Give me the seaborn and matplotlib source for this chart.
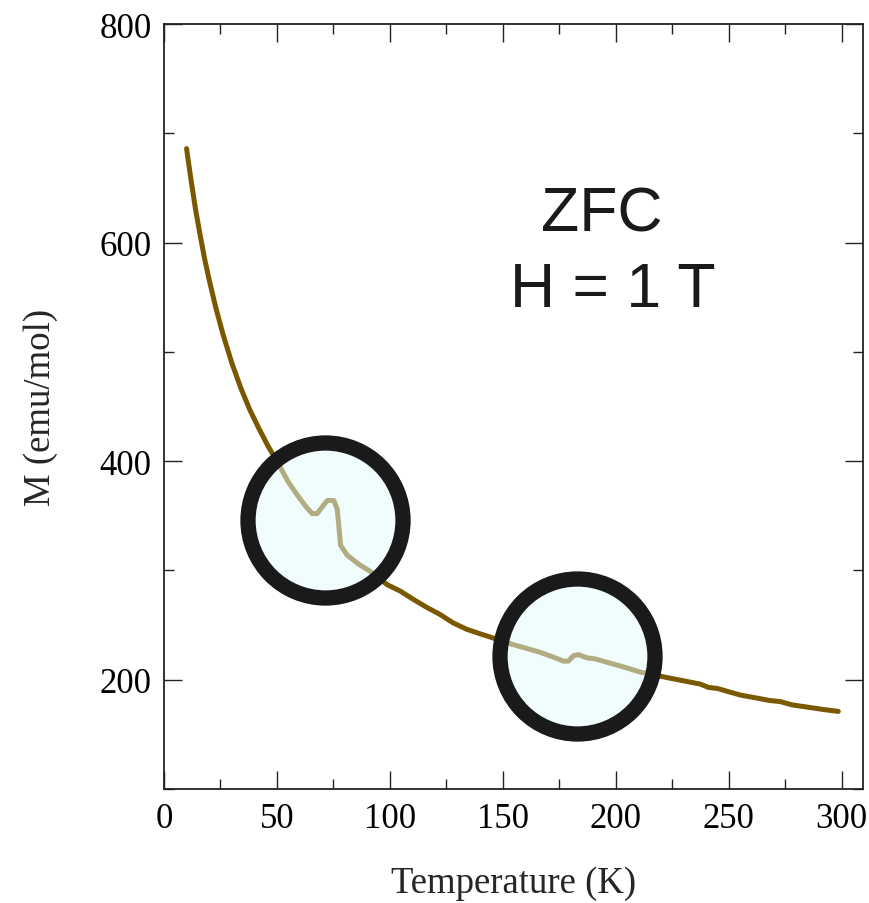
import matplotlib
matplotlib.use("Agg")
import matplotlib.pyplot as plt
import seaborn as sns
import pandas as pd
from matplotlib.ticker import MultipleLocator

# ---- data ----
temperature = [10, 12, 14, 16, 18, 20, 23, 26, 30, 34, 38, 42, 46, 50,
               55, 59, 63, 65.6, 67.8, 70, 72.3, 75.2, 76.7, 78.2, 81.1,
               86, 91.4, 98.8, 104.7, 110, 116.5, 122, 128, 134.2, 140,
               146, 150, 154.8, 160, 166.6, 172, 176.9, 179, 181.3, 183.5,
               187.3, 191, 196.1, 203, 210.8, 216, 222.6, 230, 237.4, 241,
               245, 250, 255.1, 263, 268, 272.8, 278, 284.6, 291, 298.5]
magnetization = [686, 657, 630, 607, 585, 566, 540, 517, 490, 467, 447, 430, 414, 400,
                 381, 369, 358, 352, 352, 358, 364, 364, 356, 323, 314,
                 306, 299, 287, 281, 274, 266, 260, 252, 246, 242,
                 238, 235, 232, 229, 225, 221, 217, 217, 222, 223,
                 220, 219, 216, 212, 207, 205, 202, 199, 196, 193,
                 192, 189, 186, 183, 181, 180, 177, 175, 173, 171]

annotation_lines = ["ZFC", "H = 1 T"]
x_label = "Temperature (K)"
y_label = "M (emu/mol)"

df = pd.DataFrame({"T": temperature, "M": magnetization})

sns.set_style("ticks")
plt.rcParams["font.family"] = ["Liberation Serif", "DejaVu Serif"]

fig = plt.figure(figsize=(8.69, 9.04), dpi=100)
ax = fig.add_axes([0.1887, 0.1261, 0.8048, 0.8462])

sns.lineplot(data=df, x="T", y="M", sort=False, estimator=None,
             color="#7A5800", linewidth=3.6, ax=ax, zorder=2)

# highlight circles (overlay, semi-transparent fill, thick dark ring)
ax.scatter([71.5, 182.8], [345.8, 222.0], s=12455, marker="o",
           facecolors=[(0.9, 0.98, 0.985, 0.52)],
           edgecolors=[(0.1, 0.1, 0.1, 1.0)], linewidths=11, zorder=3)

ax.set_xlim(0, 309.6)
ax.set_ylim(100, 800)
ax.xaxis.set_major_locator(MultipleLocator(50))
ax.xaxis.set_minor_locator(MultipleLocator(25))
ax.yaxis.set_major_locator(MultipleLocator(200))
ax.yaxis.set_minor_locator(MultipleLocator(100))

ax.tick_params(which="both", direction="in", top=True, right=True,
               width=1.0, color="#222222", labelsize=25, pad=9,
               labelcolor="black")
ax.tick_params(which="major", length=13)
ax.tick_params(which="minor", length=7)
for sp in ax.spines.values():
    sp.set_linewidth(1.3)
    sp.set_color("#222222")

ax.set_xlabel(x_label, fontsize=26.5, labelpad=22)
ax.set_ylabel(y_label, fontsize=26.5, labelpad=30)

ax.text(0.626, 0.752, annotation_lines[0], transform=ax.transAxes,
        ha="center", va="center", fontsize=45, color="#1a1a1a",
        family=["Liberation Sans", "DejaVu Sans"])
ax.text(0.641, 0.653, annotation_lines[1], transform=ax.transAxes,
        ha="center", va="center", fontsize=45, color="#1a1a1a",
        family=["Liberation Sans", "DejaVu Sans"])

fig.savefig("out.png", dpi=100)
